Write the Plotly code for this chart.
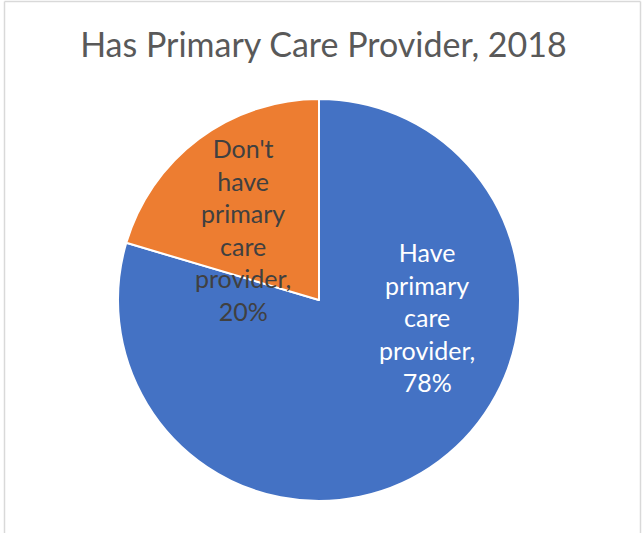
import plotly.graph_objects as go

# Survey share, 2018
categories = ["Have primary care provider", "Don't have primary care provider"]
label_lines = [["Have", "primary", "care", "provider,"],
               ["Don't", "have", "primary", "care", "provider,"]]
values = [78, 20]
colors = ["#4472C4", "#ED7D31"]
label_colors = ["#FFFFFF", "#404040"]
label_pos = [(0.664, 0.405), (0.378, 0.570)]

W, H = 643, 533

fig = go.Figure(go.Pie(
    labels=categories,
    values=values,
    sort=False,
    direction="clockwise",
    rotation=0,
    marker=dict(colors=colors, line=dict(color="#FFFFFF", width=2)),
    textinfo="none",
    hoverinfo="label+value",
    showlegend=False,
    domain=dict(x=[118 / W, 520 / W], y=[32 / H, 434 / H]),
))

# Data labels: category name plus value
for lines, v, c, (x, y) in zip(label_lines, values, label_colors, label_pos):
    fig.add_annotation(
        x=x, y=y, xref="paper", yref="paper",
        text="<br>".join(lines + [f"{v}%"]),
        showarrow=False, align="center",
        font=dict(family="Lato", size=25, color=c),
    )

# Chart-area frame
frame = "#D9D9D9"
for x0, y0, x1, y1 in [(4.5, 1.5, 640.5, 1.5), (4.5, 1.5, 4.5, 540), (640.5, 1.5, 640.5, 540)]:
    fig.add_shape(type="line", xref="paper", yref="paper",
                  x0=x0 / W, x1=x1 / W, y0=1 - y0 / H, y1=1 - y1 / H,
                  line=dict(color=frame, width=1.5))

fig.update_layout(
    width=W, height=H,
    margin=dict(l=0, r=0, t=0, b=0),
    paper_bgcolor="#FFFFFF",
    plot_bgcolor="#FFFFFF",
    title=dict(text="Has Primary Care Provider, 2018",
               x=0.503, xanchor="center", y=1 - 45 / H, yanchor="middle",
               font=dict(family="Lato", size=34, color="#595959")),
)

fig.write_html("out.html")
